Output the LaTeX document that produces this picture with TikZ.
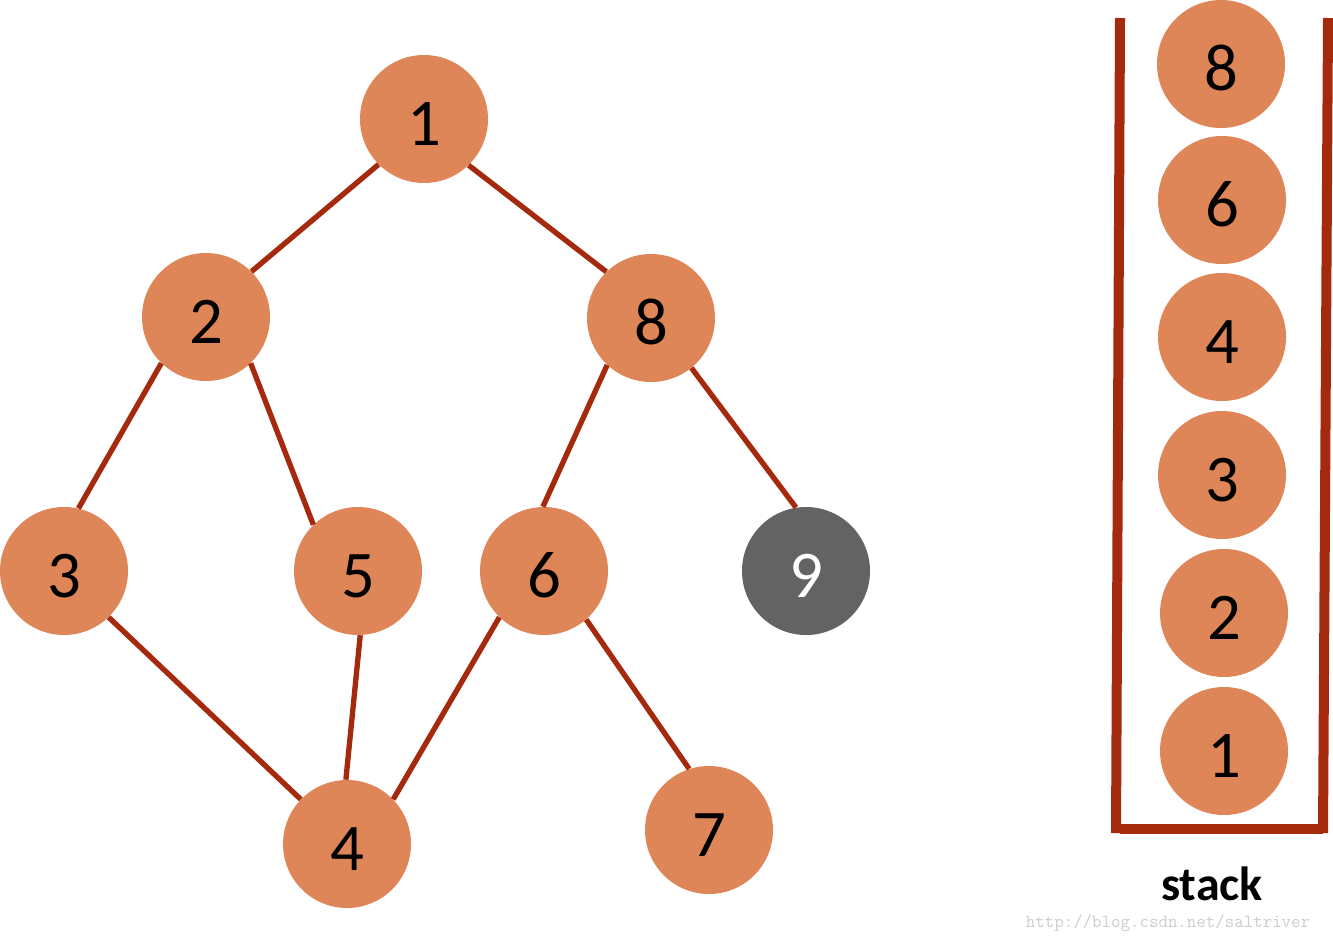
\documentclass[tikz,border=0pt]{standalone}
\usepackage{fontspec}
\setmainfont{Carlito}
\definecolor{vtxorange}{HTML}{DF8659}
\definecolor{vtxgray}{HTML}{636363}
\definecolor{edgered}{HTML}{A52A0D}
\begin{document}
\begin{tikzpicture}[x=0.75pt,y=-0.75pt,
    vtx/.style={circle,fill=vtxorange,inner sep=0pt,minimum size=96pt,
      font=\fontsize{50}{50}\selectfont,text height=39pt,text depth=0pt},
    visited/.style={vtx,fill=vtxgray,text=white},
    edge/.style={draw=edgered,line width=4pt},
    wall/.style={draw=edgered,line width=7.5pt}]
  \useasboundingbox (0,0) rectangle (1333,943);
  % the graph
  \node[vtx] (n1) at (424,119) {1};
  \node[vtx] (n2) at (206,317) {2};
  \node[vtx] (n8) at (651,318) {8};
  \node[vtx] (n3) at (64,571) {3};
  \node[vtx] (n5) at (358,571) {5};
  \node[vtx] (n6) at (544,571) {6};
  \node[visited] (n9) at (806,571) {9};
  \node[vtx] (n4) at (347,844) {4};
  \node[vtx] (n7) at (709,830) {7};
  \draw[edge] (n1.225) -- (n2.45);
  \draw[edge] (n1.314) -- (n8.134);
  \draw[edge] (n2.226) -- (n3.77);
  \draw[edge] (n2.314) -- (n5.134);
  \draw[edge] (n8.227) -- (n6.91);
  \draw[edge] (n8.309) -- (n9.99);
  \draw[edge] (n3.314) -- (n4.136);
  \draw[edge] (n5.272) -- (n4.91);
  \draw[edge] (n6.226) -- (n4.44);
  \draw[edge] (n6.311) -- (n7.108);
  % the stack
  \node[vtx] (s6) at (1221,64) {8};
  \node[vtx] (s5) at (1222,200) {6};
  \node[vtx] (s4) at (1222,337) {4};
  \node[vtx] (s3) at (1222,475) {3};
  \node[vtx] (s2) at (1224,613) {2};
  \node[vtx] (s1) at (1224,751) {1};
  \coordinate (tl) at (1120,18);
  \coordinate (bl) at (1116,833);
  \coordinate (tr) at (1328,18);
  \coordinate (br) at (1323,833);
  \draw[wall] (tl) -- (bl);
  \draw[wall] (tr) -- (br);
  \draw[wall] (1120,829) -- (1323,829);
  \node[font=\bfseries\fontsize{36}{36}\selectfont] (stk) at (1212,884) {stack};
  \node[font=\ttfamily\fontsize{13.8}{14}\selectfont,text=gray!40] (wm) at (1168,923) {http://blog.csdn.net/saltriver};
\end{tikzpicture}
\end{document}
